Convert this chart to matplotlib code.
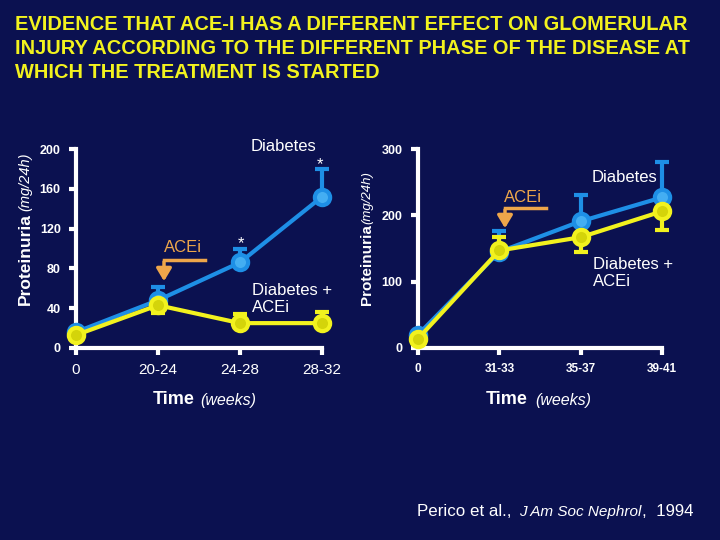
import matplotlib
matplotlib.use("Agg")
import matplotlib.pyplot as plt
from matplotlib.patches import FancyArrowPatch

plt.rcParams['font.family'] = ['Liberation Sans', 'DejaVu Sans']

BG = '#0b1150'
BLUE = '#1e8fe6'
BLUE_IN = '#44aef2'
YEL = '#f2f21e'
YEL_IN = '#d4d40a'
ORANGE = '#eea64a'
WHITE = 'white'

# Left panel data
left_cats = ["0", "20-24", "24-28", "28-32"]
left_diab = [16, 48, 86, 152]
left_diab_up = [0, 13, 13, 28]
left_acei = [13, 43, 25, 25]
left_acei_lo = [0, 8, 0, 0]
left_acei_up = [0, 0, 9, 11]
left_yticks = [0, 40, 80, 120, 160, 200]

# Right panel data
right_cats = ["0", "31-33", "35-37", "39-41"]
right_diab = [20, 145, 191, 227]
right_diab_up = [0, 31, 40, 53]
right_acei = [14, 147, 167, 206]
right_acei_lo = [0, 0, 23, 28]
right_acei_up = [0, 21, 0, 0]
right_yticks = [0, 100, 200, 300]

fig = plt.figure(figsize=(7.2, 5.4), dpi=100, facecolor=BG)


def px(xp, yp):
    return (xp/720, 1-yp/540)


title_lines = ["EVIDENCE THAT ACE-I HAS A DIFFERENT EFFECT ON GLOMERULAR",
               "INJURY ACCORDING TO THE DIFFERENT PHASE OF THE DISEASE AT",
               "WHICH THE TREATMENT IS STARTED"]
for i, line in enumerate(title_lines):
    fig.text(*px(15, 24 + 24*i), line, color=YEL, fontsize=14.45,
             fontweight='bold', ha='left', va='center')


def panel(rect, cats, diab, diab_up, acei, acei_lo, acei_up, yticks, ymax,
          xlab_kw, ylab_kw):
    ax = fig.add_axes(rect, facecolor=BG)
    x = list(range(len(cats)))
    ax.errorbar(x, diab, yerr=[[0]*len(diab), diab_up], color=BLUE, lw=3,
                ecolor=BLUE, elinewidth=3, capsize=5, capthick=3,
                marker='o', ms=11, mfc=BLUE_IN, mec=BLUE, mew=3,
                clip_on=False, zorder=3)
    ax.errorbar(x, acei, yerr=[acei_lo, acei_up], color=YEL, lw=3,
                ecolor=YEL, elinewidth=3, capsize=5, capthick=3,
                marker='o', ms=11, mfc=YEL_IN, mec=YEL, mew=3,
                clip_on=False, zorder=4)
    ax.set_xlim(0, len(cats) - 1)
    ax.set_ylim(0, ymax)
    for s in ['top', 'right']:
        ax.spines[s].set_visible(False)
    for s in ['left', 'bottom']:
        ax.spines[s].set_color(WHITE)
        ax.spines[s].set_linewidth(3)
    ax.set_xticks(x)
    ax.set_xticklabels(cats, **xlab_kw)
    ax.set_yticks(yticks)
    ax.set_yticklabels([str(t) for t in yticks], **ylab_kw)
    ax.tick_params(axis='both', colors=WHITE, width=3, length=5)
    ax.tick_params(axis='x', pad=6)
    ax.tick_params(axis='y', pad=6)
    return ax


axL = panel([76/720, 1-348/540, 246/720, 199/540], left_cats, left_diab,
            left_diab_up, left_acei, left_acei_lo, left_acei_up, left_yticks,
            200, dict(color=WHITE, fontsize=11),
            dict(color=WHITE, fontsize=9, fontweight='bold'))
axR = panel([418/720, 1-348/540, 244/720, 199/540], right_cats, right_diab,
            right_diab_up, right_acei, right_acei_lo, right_acei_up,
            right_yticks, 300,
            dict(color=WHITE, fontsize=8.5, fontweight='bold'),
            dict(color=WHITE, fontsize=9, fontweight='bold'))

# Y labels
fig.text(*px(25, 305), "Proteinuria", color=WHITE, fontsize=12.5,
         fontweight='bold', rotation=90, ha='center', va='bottom')
fig.text(*px(25, 211), "(mg/24h)", color=WHITE, fontsize=10.5,
         fontstyle='italic', rotation=90, ha='center', va='bottom')
fig.text(*px(367, 305), "Proteinuria", color=WHITE, fontsize=11,
         fontweight='bold', rotation=90, ha='center', va='bottom')
fig.text(*px(367, 224), "(mg/24h)", color=WHITE, fontsize=9.5,
         fontstyle='italic', rotation=90, ha='center', va='bottom')

# X labels
for xt, xw in ((195, 200), (528, 535)):
    fig.text(*px(xt, 399), "Time", color=WHITE, fontsize=13,
             fontweight='bold', ha='right', va='center')
    fig.text(*px(xw, 400), "(weeks)", color=WHITE, fontsize=11.5,
             fontstyle='italic', ha='left', va='center')

# Annotations left
fig.text(*px(283, 147), "Diabetes", color=WHITE, fontsize=12,
         ha='center', va='center')
fig.text(*px(320, 165), "*", color=WHITE, fontsize=12, ha='center', va='center')
fig.text(*px(241, 244), "*", color=WHITE, fontsize=12, ha='center', va='center')
fig.text(*px(252, 299), "Diabetes +\nACEi", color=WHITE, fontsize=12,
         ha='left', va='center', linespacing=1.15)
fig.text(*px(183, 248), "ACEi", color=ORANGE, fontsize=12,
         ha='center', va='center')
fig.add_artist(plt.Line2D([205/720, 164/720], [1-260/540, 1-260/540],
                          color=ORANGE, lw=2.5, transform=fig.transFigure))
fig.add_artist(FancyArrowPatch(
    px(164, 259), px(164, 284), transform=fig.transFigure,
    arrowstyle='-|>,head_length=5,head_width=3', color=ORANGE, lw=2.5,
    mutation_scale=1.5))

# Annotations right
fig.text(*px(592, 178), "Diabetes", color=WHITE, fontsize=12,
         ha='left', va='center')
fig.text(*px(593, 273), "Diabetes +\nACEi", color=WHITE, fontsize=12,
         ha='left', va='center', linespacing=1.15)
fig.text(*px(523, 197), "ACEi", color=ORANGE, fontsize=12,
         ha='center', va='center')
fig.add_artist(plt.Line2D([546/720, 505/720], [1-208/540, 1-208/540],
                          color=ORANGE, lw=2.5, transform=fig.transFigure))
fig.add_artist(FancyArrowPatch(
    px(505, 207), px(505, 231), transform=fig.transFigure,
    arrowstyle='-|>,head_length=5,head_width=3', color=ORANGE, lw=2.5,
    mutation_scale=1.5))

# Citation: chained pieces
renderer = fig.canvas.get_renderer()
pieces = [("Perico et al., ", 'normal', 12.2),
          ("J Am Soc Nephrol", 'italic', 11.0),
          (",  1994", 'normal', 12.2)]
xcur = 417
for s, style, fs in pieces:
    t = fig.text(*px(xcur, 512), s, color=WHITE, fontsize=fs,
                 fontstyle=style, ha='left', va='center')
    bb = t.get_window_extent(renderer=renderer)
    xcur += bb.width + (3 if style == 'normal' and s.startswith("Perico") else 0)

fig.savefig("out.png", dpi=100, facecolor=BG)
